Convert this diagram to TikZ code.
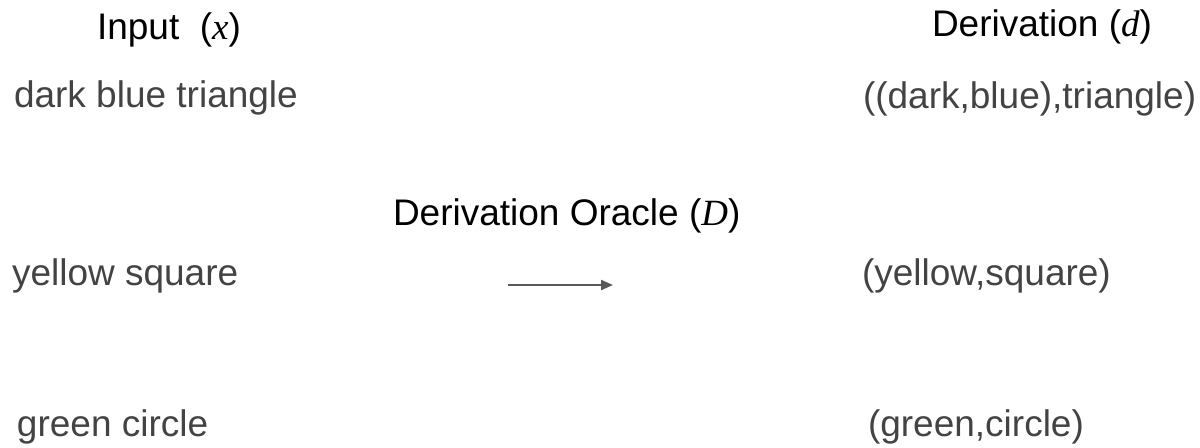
\documentclass[tikz,border=0pt]{standalone}
\usepackage{fontspec}
\setmainfont{Liberation Sans}
\newfontfamily\serifit{Liberation Serif}[ItalicFont={* Italic}]
\usetikzlibrary{arrows.meta}
\definecolor{txtgray}{HTML}{434343}
\definecolor{arrgray}{HTML}{595959}
\newcommand{\mvar}[1]{{\serifit\itshape #1}}
\begin{document}
\begin{tikzpicture}[x=0.5pt,y=-0.5pt,
  lbl/.style={anchor=base west,inner sep=0pt,outer sep=0pt,font=\fontsize{18.5}{22}\selectfont,text=txtgray},
  hdr/.style={lbl,text=black},
  conn/.style={draw=arrgray,line width=1pt,-{Triangle[length=6pt,width=5pt]}}]
\useasboundingbox (0,0) rectangle (1200,447);
\node[hdr] (hin) at (97,39) {Input\ \ (\mvar{x})};
\node[hdr] (hder) at (932,36) {Derivation (\mvar{d})};
\node[lbl] (x1) at (14,107) {dark blue triangle};
\node[lbl] (d1) at (863,108) {((dark,blue),triangle)};
\node[hdr] (oracle) at (393,225) {Derivation Oracle (\mvar{D})};
\node[lbl] (x2) at (12,285) {yellow square};
\node[lbl] (d2) at (862,285) {(yellow,square)};
\node[lbl] (x3) at (17,436) {green circle};
\node[lbl] (d3) at (868,436) {(green,circle)};
\coordinate (as) at (508,285);
\coordinate (ae) at (613,285);
\draw[conn] (as) -- (ae);
\end{tikzpicture}
\end{document}
